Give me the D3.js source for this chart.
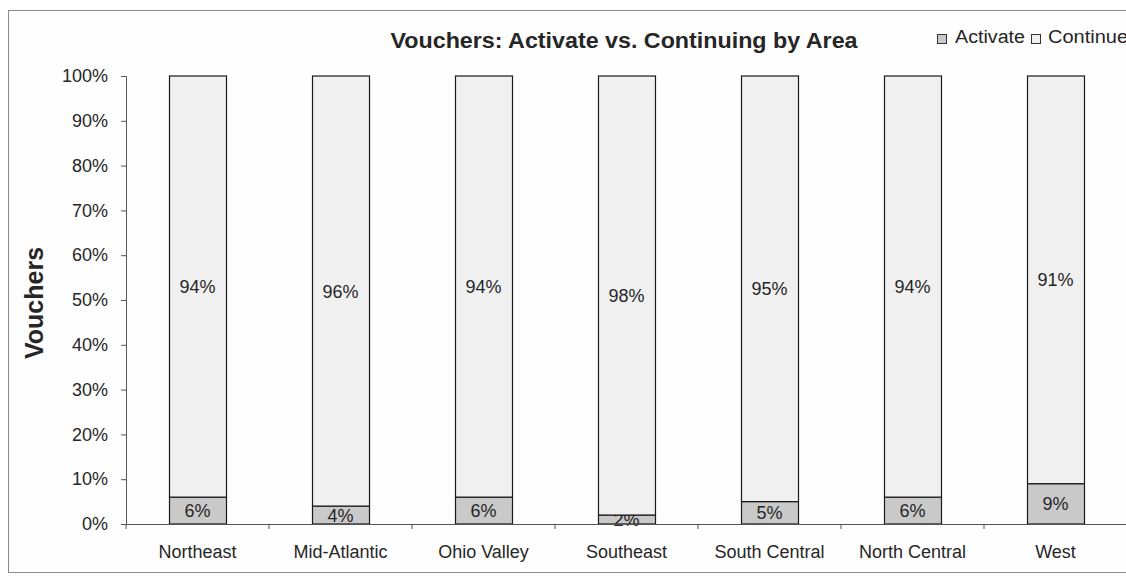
<!DOCTYPE html>
<html>
<head>
<meta charset="utf-8">
<script src="https://cdn.jsdelivr.net/npm/d3@7"></script>
<style>
  html, body { margin: 0; padding: 0; background: #ffffff; }
  svg { display: block; }
</style>
</head>
<body>
<svg id="chart" width="1126" height="580"></svg>
<script>
// Voucher mix by area: share of activated vs. continuing vouchers
const areas = ["Northeast", "Mid-Atlantic", "Ohio Valley", "Southeast", "South Central", "North Central", "West"];
const activate = [6, 4, 6, 2, 5, 6, 9];
const continuing = [94, 96, 94, 98, 95, 94, 91];
const yTicks = [0, 10, 20, 30, 40, 50, 60, 70, 80, 90, 100];
const seriesNames = ["Activate", "Continue"];
const seriesColors = ["#c9c9c9", "#f0f0f0"];

const svg = d3.select("#chart");
const W = 1126, H = 580;
const margin = { left: 126, right: -1, top: 76, bottom: 56 };
const plotRight = W - margin.right;
const plotBottom = H - margin.bottom;
const textColor = "#262626";
const axisFont = "Liberation Sans, Arial, sans-serif";

// outer chart frame
svg.append("rect")
  .attr("x", 8.5).attr("y", 10.5)
  .attr("width", W + 20).attr("height", 562)
  .attr("fill", "#fefefe")
  .attr("stroke", "#8a8a8a").attr("stroke-width", 1);

const x = d3.scaleBand()
  .domain(areas)
  .range([margin.left, plotRight])
  .paddingInner(0.6)
  .paddingOuter(0.3);

const y = d3.scaleLinear()
  .domain([0, 100])
  .range([plotBottom, margin.top]);

const rows = areas.map((a, i) => ({ area: a, Activate: activate[i], Continue: continuing[i] }));
const stacked = d3.stack().keys(seriesNames)(rows);

// stacked bars
const layers = svg.append("g").selectAll("g")
  .data(stacked)
  .join("g")
  .attr("fill", (d, i) => seriesColors[i]);

layers.selectAll("rect")
  .data(d => d)
  .join("rect")
  .attr("x", d => Math.round(x(d.data.area)) + 0.5)
  .attr("width", Math.round(x.bandwidth()))
  .attr("y", d => y(d[1]))
  .attr("height", d => y(d[0]) - y(d[1]))
  .attr("stroke", "#1a1a1a")
  .attr("stroke-width", 1.2);

// segment value labels
layers.selectAll("text")
  .data(d => d)
  .join("text")
  .attr("x", d => x(d.data.area) + x.bandwidth() / 2)
  .attr("y", d => (y(d[0]) + y(d[1])) / 2)
  .attr("dy", "0.36em")
  .attr("text-anchor", "middle")
  .attr("font-family", axisFont)
  .attr("font-size", 18)
  .attr("fill", textColor)
  .text(d => (d[1] - d[0]) + "%");

// y axis
const yAxis = d3.axisLeft(y)
  .tickValues(yTicks)
  .tickFormat(d => d + "%")
  .tickSize(5)
  .tickPadding(13);
const gy = svg.append("g")
  .attr("transform", `translate(${margin.left},0)`)
  .call(yAxis);
gy.select(".domain").attr("stroke", "#555");
gy.selectAll(".tick line").attr("stroke", "#555");
gy.selectAll(".tick text")
  .attr("font-family", axisFont)
  .attr("font-size", 18)
  .attr("fill", textColor);

// x axis: ticks on category boundaries
const gx = svg.append("g")
  .attr("transform", `translate(0,${plotBottom})`);
gx.append("line")
  .attr("x1", margin.left).attr("x2", plotRight)
  .attr("y1", 0.5).attr("y2", 0.5)
  .attr("stroke", "#555");
const boundaries = areas.map(a => x(a) - x.step() * x.paddingOuter());
gx.selectAll("line.tick")
  .data(boundaries)
  .join("line")
  .attr("class", "tick")
  .attr("x1", d => d).attr("x2", d => d)
  .attr("y1", 0).attr("y2", 5)
  .attr("stroke", "#555");
gx.selectAll("text")
  .data(areas)
  .join("text")
  .attr("x", d => x(d) + x.bandwidth() / 2)
  .attr("y", 34)
  .attr("text-anchor", "middle")
  .attr("font-family", axisFont)
  .attr("font-size", 18)
  .attr("fill", textColor)
  .text(d => d);

// y axis title
svg.append("text")
  .attr("transform", `translate(43,${(margin.top + plotBottom) / 2 + 3}) rotate(-90)`)
  .attr("text-anchor", "middle")
  .attr("font-family", axisFont)
  .attr("font-weight", "bold")
  .attr("font-size", 25)
  .attr("fill", textColor)
  .text("Vouchers");

// chart title
svg.append("text")
  .attr("x", 624)
  .attr("y", 48)
  .attr("text-anchor", "middle")
  .attr("font-family", axisFont)
  .attr("font-weight", "bold")
  .attr("font-size", 22)
  .attr("textLength", 467)
  .attr("lengthAdjust", "spacingAndGlyphs")
  .attr("fill", textColor)
  .text("Vouchers: Activate vs. Continuing by Area");

// legend
const legendX = [937, 1031];
const legendTextLen = [70, 80];
seriesNames.forEach((name, i) => {
  const g = svg.append("g").attr("transform", `translate(${legendX[i]},0)`);
  g.append("rect")
    .attr("x", 0.5).attr("y", 34.5)
    .attr("width", 9).attr("height", 9)
    .attr("fill", seriesColors[i])
    .attr("stroke", "#333");
  g.append("text")
    .attr("x", i === 0 ? 18 : 17)
    .attr("y", 43)
    .attr("font-family", axisFont)
    .attr("font-size", 18)
    .attr("textLength", legendTextLen[i])
    .attr("lengthAdjust", "spacingAndGlyphs")
    .attr("fill", textColor)
    .text(name);
});
</script>
</body>
</html>
